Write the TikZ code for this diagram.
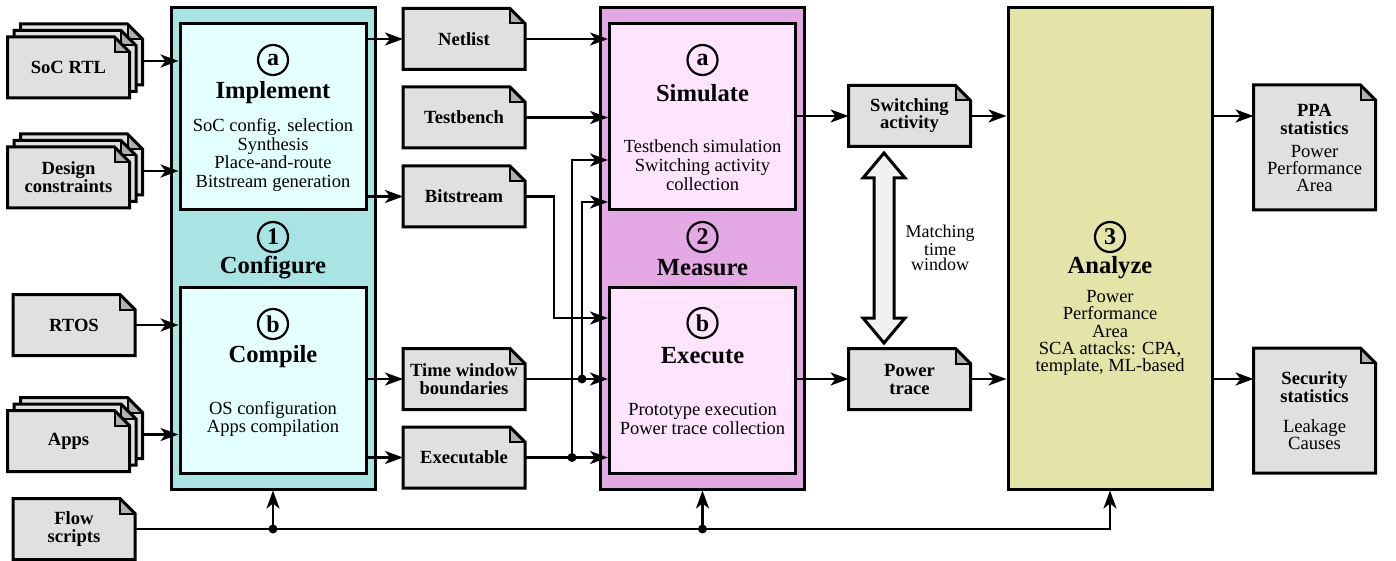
\documentclass[tikz,border=0pt]{standalone}
\usepackage{fontspec}
\setmainfont{Liberation Serif}
\usetikzlibrary{positioning,calc,arrows.meta}

\definecolor{confout}{HTML}{A8E4E4}
\definecolor{confin}{HTML}{E4FFFF}
\definecolor{measout}{HTML}{E4A8E4}
\definecolor{measin}{HTML}{FFE4FF}
\definecolor{anafill}{HTML}{E4E4A8}
\definecolor{docgray}{HTML}{E0E0E0}
\definecolor{foldgray}{HTML}{B0B0B0}
\definecolor{arrowgray}{HTML}{F0F0F0}

\pgfdeclarelayer{sheets}
\pgfsetlayers{sheets,main}

\tikzset{
	stage/.style={draw, line width=1.5pt, minimum width=102pt, minimum height=240.5pt, inner sep=0pt},
	task/.style={draw, line width=1.5pt, minimum width=93pt, minimum height=93pt, inner sep=0pt},
	doc/.style={minimum width=61pt, minimum height=30.5pt, inner sep=0pt, outer sep=0pt, align=center, font=\bfseries\fontsize{9.3}{9}\selectfont},
	num/.style={circle, draw, line width=1.1pt, minimum size=15pt, inner sep=0pt, font=\bfseries\fontsize{12}{12}\selectfont},
	headline/.style={font=\bfseries\fontsize{12.3}{12}\selectfont},
	body/.style={align=center, font=\fontsize{9.25}{9.4}\selectfont},
	flow/.style={line width=1.3pt, -{Stealth[length=9pt, width=6.5pt, inset=2.5pt]}},
	dot/.style={circle, fill, minimum size=4.5pt, inner sep=0pt},
}

% paper sheet with folded corner, drawn behind the node text
\newcommand{\sheet}[1]{%
	\begin{pgfonlayer}{sheets}
		\fill[docgray] (#1.south west) -- (#1.north west) -- ([xshift=-7.5pt]#1.north east) -- ([yshift=-7.5pt]#1.north east) -- (#1.south east) -- cycle;
		\filldraw[fill=foldgray, line width=1pt] ([xshift=-7.5pt]#1.north east) -- ([xshift=-7.5pt, yshift=-7.5pt]#1.north east) -- ([yshift=-7.5pt]#1.north east);
		\draw[line width=1.5pt] (#1.south west) -- (#1.north west) -- ([xshift=-7.5pt]#1.north east) -- ([yshift=-7.5pt]#1.north east) -- (#1.south east) -- cycle;
	\end{pgfonlayer}}

\begin{document}
\begin{tikzpicture}[x=0.5pt, y=-0.5pt]
	\useasboundingbox (0,0) rectangle (1396,561);

	% stages
	\node[stage, fill=confout] (conf) at (273, 248.5) {};
	\node[stage, fill=measout] (meas) at (702.5, 248.5) {};
	\node[stage, fill=anafill] (ana) at (1110, 248.5) {};

	\node[task, fill=confin] (impl) at (273, 117) {};
	\node[task, fill=confin] (comp) at (273, 380.5) {};
	\node[task, fill=measin] (sim) at (702.5, 117) {};
	\node[task, fill=measin] (exec) at (702.5, 380.5) {};

	\node[num] (nconf) at (273, 237) {1};
	\node[headline] (tconf) at (273, 268) {Configure};
	\node[num] (nmeas) at (702.5, 237) {2};
	\node[headline] (tmeas) at (702.5, 268) {Measure};
	\node[num] (nana) at (1110, 237) {3};
	\node[headline] (tana) at (1110, 268) {Analyze};
	\node[body, font=\fontsize{9.25}{8.6}\selectfont] (bana) at (1110, 333) {Power\\Performance\\Area\\SCA attacks: CPA,\\template, ML-based};

	\node[num] (nimpl) at (273, 60) {a};
	\node[headline] (timpl) at (273, 93) {Implement};
	\node[body] (bimpl) at (273, 155) {SoC config. selection\\Synthesis\\Place-and-route\\Bitstream generation};

	\node[num] (ncomp) at (273, 324) {b};
	\node[headline] (tcomp) at (273, 357) {Compile};
	\node[body] (bcomp) at (273, 419) {OS configuration\\Apps compilation};

	\node[num] (nsim) at (702.5, 60) {a};
	\node[headline] (tsim) at (702.5, 93) {Simulate};
	\node[body] (bsim) at (702.5, 165) {Testbench simulation\\Switching activity\\collection};

	\node[num] (nexec) at (702.5, 323) {b};
	\node[headline] (texec) at (702.5, 356) {Execute};
	\node[body] (bexec) at (702.5, 419) {Prototype execution\\Power trace collection};

	% input files
	\node[doc] (rtlb) at (81.5, 54.5) {}; \sheet{rtlb}
	\node[doc] (rtlm) at (75, 61) {}; \sheet{rtlm}
	\node[doc] (rtl) at (68.5, 67.5) {SoC RTL}; \sheet{rtl}

	\node[doc] (dcb) at (81.5, 164.5) {}; \sheet{dcb}
	\node[doc] (dcm) at (75, 171) {}; \sheet{dcm}
	\node[doc] (dc) at (68.5, 177.5) {Design\\constraints}; \sheet{dc}

	\node[doc] (rtos) at (74, 325) {RTOS}; \sheet{rtos}

	\node[doc] (appsb) at (81.5, 428) {}; \sheet{appsb}
	\node[doc] (appsm) at (75, 434.5) {}; \sheet{appsm}
	\node[doc] (apps) at (68.5, 441) {Apps}; \sheet{apps}

	\node[doc] (flow) at (74, 529) {Flow\\scripts}; \sheet{flow}

	% intermediate files
	\node[doc] (net) at (464, 39) {Netlist}; \sheet{net}
	\node[doc] (tb) at (464, 117.5) {Testbench}; \sheet{tb}
	\node[doc] (bits) at (464, 196.5) {Bitstream}; \sheet{bits}
	\node[doc] (tw) at (464, 379) {Time window\\boundaries}; \sheet{tw}
	\node[doc] (exe) at (464, 457.5) {Executable}; \sheet{exe}

	\node[doc] (sw) at (909.5, 116) {Switching\\[-0.5pt]activity}; \sheet{sw}
	\node[doc] (pt) at (909.5, 379) {Power\\trace}; \sheet{pt}

	% results
	\node[doc, minimum height=62.5pt] (ppa) at (1314.5, 147.5) {PPA\\statistics\\[2.5pt]\mdseries Power\\[-0.5pt]\mdseries Performance\\[-0.5pt]\mdseries Area}; \sheet{ppa}
	\node[doc, minimum height=62.5pt] (sec) at (1314.5, 410.5) {Security\\statistics\\[6pt]\mdseries Leakage\\[-0.5pt]\mdseries Causes}; \sheet{sec}

	% matching window
	\filldraw[fill=arrowgray, line width=1.5pt] (884,153) -- (905,178) -- (894,178) -- (894,318) -- (905,318) -- (884,343) -- (863,318) -- (874,318) -- (874,178) -- (863,178) -- cycle;
	\node[align=center, font=\fontsize{9}{7.5}\selectfont] (match) at (940, 248) {Matching\\time\\window};

	\coordinate (bend1) at (554, 318);
	\coordinate (bend2) at (572, 160);
	\coordinate (bend3) at (582, 202);

	\draw[flow] (rtlm.east -| rtlb.east) -- (impl.west |- rtlm.east);
	\draw[flow] (dcm.east -| dcb.east) -- (impl.west |- dcm.east);
	\draw[flow] (rtos) -- (comp.west |- rtos);
	\draw[flow] (appsm.east -| appsb.east) -- (comp.west |- appsm.east);

	\draw[flow] (impl.east |- net) -- (net);
	\draw[flow] (impl.east |- bits) -- (bits);
	\draw[flow] (comp.east |- tw) -- (tw);
	\draw[flow] (comp.east |- exe) -- (exe);

	\draw[flow] (net) -- (sim.west |- net);
	\draw[flow] (tb) -- (sim.west |- tb);
	\draw[flow] (bits.east) -| (bend1) -- (exec.west |- bend1);
	\draw[flow] (tw) -- (exec.west |- tw);
	\draw[flow] (exe) -- (exec.west |- exe);
	\draw[flow] (bend2 |- exe) node[dot] (d1) {} |- (sim.west |- bend2);
	\draw[flow] (bend3 |- tw) node[dot] (d2) {} |- (sim.west |- bend3);

	\draw[flow] (sim.east |- sw) -- (sw);
	\draw[flow] (exec.east |- pt) -- (pt);
	\draw[flow] (sw) -- (ana.west |- sw);
	\draw[flow] (pt) -- (ana.west |- pt);
	\draw[flow] (ana.east |- sw) -- (ppa.west |- sw);
	\draw[flow] (ana.east |- pt) -- (sec.west |- pt);

	\draw[flow] (flow.east) -| (ana.south);
	\draw[flow] (conf.south |- flow.east) node[dot] (d3) {} -- (conf.south);
	\draw[flow] (meas.south |- flow.east) node[dot] (d4) {} -- (meas.south);

\end{tikzpicture}
\end{document}
